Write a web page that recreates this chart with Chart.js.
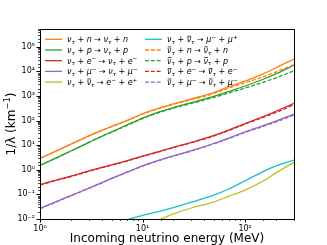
<!DOCTYPE html>
<html><head><meta charset="utf-8">
<script src="https://cdn.jsdelivr.net/npm/chart.js@4.4.1/dist/chart.umd.min.js"></script>
<style>html,body{margin:0;padding:0;background:#fff}#wrap{width:327px;height:245px}</style>
</head><body><div id="wrap"><canvas id="c" width="327" height="245"></canvas></div>
<script>
// ---- data ----
const energies = [1, 1.5, 2, 3, 4, 5, 7, 10, 15, 20, 30, 50, 70, 100, 150, 200, 300];
const nuN      = [2.9, 6.3, 11, 24, 40, 58, 100, 190, 340, 480, 760, 1400, 2400, 4000, 8000, 14000, 32000];
const nuP      = [1.5, 3.3, 5.8, 13, 23, 35, 65, 125, 235, 340, 540, 980, 1550, 2550, 4800, 8000, 18000];
const nuE      = [0.25, 0.4, 0.55, 0.9, 1.25, 1.6, 2.3, 3.6, 5.8, 8.2, 13, 25, 42, 76, 145, 240, 500];
const nuMu     = [0.027, 0.055, 0.09, 0.18, 0.3, 0.45, 0.8, 1.45, 2.6, 3.7, 6, 12, 20, 35, 62, 95, 185];
const eePair   = [null, null, null, null, null, null, null, 0.0055, 0.0098, 0.016, 0.028, 0.05, 0.085, 0.15, 0.35, 0.75, 2.0];
const muPair   = [null, null, null, null, null, 0.0065, 0.0092, 0.014, 0.021, 0.029, 0.048, 0.095, 0.17, 0.36, 0.85, 1.45, 2.5];
const nubN     = [2.9, 6.3, 11, 24, 40, 57, 98, 184, 325, 455, 710, 1280, 2150, 3450, 6000, 9500, 19000];
const nubP     = [1.5, 3.3, 5.8, 13, 23, 34, 63, 121, 225, 320, 500, 880, 1350, 2100, 3600, 5500, 10500];
const nubE     = [0.24, 0.39, 0.53, 0.87, 1.2, 1.55, 2.25, 3.5, 5.6, 8, 12.6, 24, 40, 72, 135, 215, 440];
const nubMu    = [0.026, 0.053, 0.087, 0.175, 0.29, 0.44, 0.78, 1.4, 2.5, 3.6, 5.8, 11.5, 19, 33, 58, 88, 168];

const seriesLabels = [
  "ν_τ + n → ν_τ + n",
  "ν_τ + p → ν_τ + p",
  "ν_τ + e^− → ν_τ + e^−",
  "ν_τ + μ^− → ν_τ + μ^−",
  "ν_τ + ~ν_τ → e^− + e^+",
  "ν_τ + ~ν_τ → μ^− + μ^+",
  "~ν_τ + n → ~ν_τ + n",
  "~ν_τ + p → ~ν_τ + p",
  "~ν_τ + e^− → ~ν_τ + e^−",
  "~ν_τ + μ^− → ~ν_τ + μ^−"
];
const seriesValues = [nuN, nuP, nuE, nuMu, eePair, muPair, nubN, nubP, nubE, nubMu];
const seriesColors = ['#ff7f0e','#2ca02c','#d62728','#9467bd','#bcbd22','#17becf','#ff7f0e','#2ca02c','#d62728','#9467bd'];
const seriesDashed = [false,false,false,false,false,false,true,true,true,true];
const xMin = 1, xMax = 300, yMin = 0.01, yMax = 5.3e5;
const xTitle = "Incoming neutrino energy (MeV)";
const yTitle = "1/λ (km^{−1})";

const SUP = {'0':'⁰','1':'¹','2':'²','3':'³','4':'⁴','5':'⁵','6':'⁶','7':'⁷','8':'⁸','9':'⁹','-':'⁻'};
function powLabel(v){
  const l = Math.log10(v);
  if (Math.abs(l - Math.round(l)) > 1e-9) return '';
  return '10' + String(Math.round(l)).split('').map(c => SUP[c]).join('');
}

function richRuns(str, italicLetters){
  const runs = []; let i = 0; let bar = false;
  while (i < str.length){
    let c = str[i];
    if (c === '~'){ bar = true; i++; continue; }
    let mode = 'n';
    if (c === '_' || c === '^'){
      mode = c === '_' ? 'sub' : 'sup'; i++; c = str[i];
      if (c === '{'){ const j = str.indexOf('}', i); c = str.slice(i+1, j); i = j; }
    }
    runs.push({t:c, mode, bar, it: italicLetters && /[a-zA-Zα-ωμ]/.test(c)});
    bar = false; i++;
  }
  return runs;
}
function drawRich(ctx, x, y, str, size, family, italicLetters){
  const runs = richRuns(str, italicLetters);
  let cx = x;
  for (const r of runs){
    const s = r.mode === 'n' ? size : size*0.7;
    const dy = r.mode === 'sub' ? size*0.22 : (r.mode === 'sup' ? -size*0.42 : 0);
    ctx.font = (r.it ? 'italic ' : '') + s + 'px ' + family;
    ctx.fillText(r.t, cx, y + dy);
    const w = ctx.measureText(r.t).width;
    if (r.bar){ ctx.fillRect(cx + w*0.15, y - size*0.78, w*0.85, 0.7); }
    cx += w;
  }
  return cx - x;
}

const decor = {
  id: 'decor',
  afterDraw(chart){
    const ctx = chart.ctx, a = chart.chartArea;
    const xs = chart.scales.x, ys = chart.scales.y;
    ctx.save();
    // frame
    ctx.strokeStyle = '#000'; ctx.lineWidth = 1;
    ctx.strokeRect(Math.round(a.left)+0.5, Math.round(a.top)+0.5, Math.round(a.right-a.left), Math.round(a.bottom-a.top));
    // ticks
    const isMajor = v => Math.abs(Math.log10(v) - Math.round(Math.log10(v))) < 1e-9;
    xs.ticks.forEach(t => {
      const px = Math.round(xs.getPixelForValue(t.value)) + 0.5;
      const mj = isMajor(t.value);
      ctx.lineWidth = mj ? 1 : 0.7;
      ctx.beginPath(); ctx.moveTo(px, a.bottom); ctx.lineTo(px, a.bottom + (mj ? 3.5 : 2)); ctx.stroke();
    });
    ys.ticks.forEach(t => {
      const py = Math.round(ys.getPixelForValue(t.value)) + 0.5;
      const mj = isMajor(t.value);
      ctx.lineWidth = mj ? 1 : 0.7;
      ctx.beginPath(); ctx.moveTo(a.left, py); ctx.lineTo(a.left - (mj ? 3.5 : 2), py); ctx.stroke();
    });
    // legend
    ctx.fillStyle = '#000'; ctx.textBaseline = 'alphabetic';
    const rowH = 10.7, y0 = 39.3;
    seriesLabels.forEach((lab, i) => {
      const col = i < 5 ? 0 : 1, row = i % 5;
      const lx = col === 0 ? 45 : 145, ty = y0 + row*rowH;
      ctx.strokeStyle = seriesColors[i]; ctx.lineWidth = 1.3;
      ctx.setLineDash(seriesDashed[i] ? [4, 1.8] : []);
      ctx.beginPath(); ctx.moveTo(lx, ty); ctx.lineTo(lx + 17, ty); ctx.stroke();
      ctx.setLineDash([]);
      drawRich(ctx, lx + 22, ty + 2.8, lab, 8, 'DejaVu Sans', true);
    });
    // axis titles
    ctx.font = '12px DejaVu Sans'; ctx.textAlign = 'center';
    ctx.fillText(xTitle, (a.left + a.right)/2, 242);
    ctx.save();
    ctx.translate(15, (a.top + a.bottom)/2); ctx.rotate(-Math.PI/2);
    ctx.textAlign = 'left';
    const c2 = document.createElement('canvas').getContext('2d');
    const w = drawRich(c2, 0, 0, yTitle, 12, 'DejaVu Sans', false);
    drawRich(ctx, -w/2, 0, yTitle, 12, 'DejaVu Sans', false);
    ctx.restore();
    ctx.restore();
  }
};

const datasets = seriesValues.map((vals, i) => ({
  label: seriesLabels[i],
  data: energies.map((e, k) => ({x: e, y: vals[k]})),
  borderColor: seriesColors[i],
  borderWidth: 1.3,
  borderDash: seriesDashed[i] ? [4, 1.8] : [],
  pointRadius: 0,
  fill: false,
  cubicInterpolationMode: 'monotone',
  spanGaps: false,
  clip: 0,
  order: 20 - i
}));

new Chart(document.getElementById('c'), {
  type: 'line',
  data: { datasets },
  options: {
    responsive: false, animation: false, devicePixelRatio: 1,
    layout: { padding: { top: 29, right: 33, left: 0, bottom: 0 } },
    plugins: { legend: { display: false }, tooltip: { enabled: false } },
    scales: {
      x: {
        type: 'logarithmic', min: xMin, max: xMax,
        grid: { display: false, drawTicks: false }, border: { display: false },
        ticks: { autoSkip: false, maxRotation: 0, padding: 5, color: '#000',
          font: { family: 'DejaVu Sans', size: 8 }, callback: (v) => powLabel(v) },
        afterFit(s){ s.height = 26; }
      },
      y: {
        type: 'logarithmic', min: yMin, max: yMax,
        grid: { display: false, drawTicks: false }, border: { display: false },
        ticks: { autoSkip: false, padding: 5, color: '#000',
          font: { family: 'DejaVu Sans', size: 8 }, callback: (v) => powLabel(v) },
        afterFit(s){ s.width = 40; }
      }
    }
  },
  plugins: [decor]
});
</script>
</body></html>
